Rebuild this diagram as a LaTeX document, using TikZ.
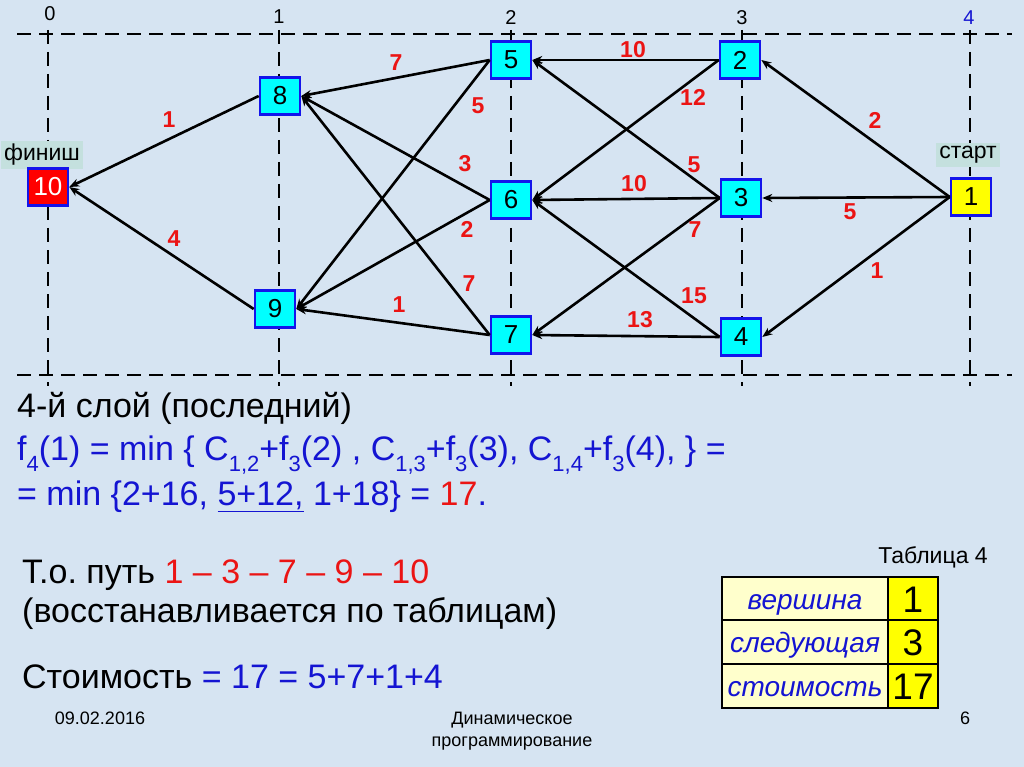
\documentclass[tikz,border=0pt]{standalone}
\usepackage{fontspec}
\setmainfont{Liberation Sans}
\usetikzlibrary{arrows.meta}
\frenchspacing
\definecolor{bg}{RGB}{214,228,242}
\definecolor{tblue}{RGB}{20,20,210}
\definecolor{lred}{RGB}{235,20,20}
\definecolor{ncyan}{RGB}{0,255,255}
\definecolor{nborder}{RGB}{20,20,235}
\definecolor{tagbg}{RGB}{196,224,222}
\definecolor{lyel}{RGB}{255,255,204}
\definecolor{yel}{RGB}{255,255,0}
\newcommand\mysub[1]{\raisebox{-0.3em}{\fontsize{22}{22}\selectfont #1}}
\newcommand\fs[1]{\fontsize{#1}{#1}\selectfont}
\begin{document}
\begin{tikzpicture}[x=1pt,y=-1pt,
  gnode/.style={draw=nborder, line width=2.6pt, fill=ncyan, minimum width=40pt, minimum height=37pt, inner sep=0pt, font=\fs{26}},
  edge/.style={line width=2.6pt, -{Stealth[length=10pt,width=8pt]}},
  wlab/.style={text=lred, font=\bfseries\fs{23}},
  gridline/.style={line width=2.4pt, dash pattern=on 14pt off 8pt},
  collab/.style={font=\fs{20}},
  tag/.style={fill=tagbg, font=\fs{23}, inner sep=3pt},
  txt/.style={anchor=west, font=\fs{34}, inner sep=0pt},
  foot/.style={font=\fs{18}},
  lcell/.style={draw=black, line width=2.8pt, fill=lyel, minimum width=166pt, minimum height=44pt, inner sep=0pt, text height=20pt, text depth=0pt, text=tblue, font=\itshape\fs{28}},
  rcell/.style={draw=black, line width=2.8pt, fill=yel, minimum width=50pt, minimum height=44pt, inner sep=0pt, text height=27pt, text depth=0pt, font=\fs{37}}
]
\useasboundingbox (0,0) rectangle (1024,767);
\fill[bg] (0,0) rectangle (1024,767);

% grid
\draw[gridline] (17,34) -- (1012,34);
\draw[gridline] (17,375) -- (1012,375);
\foreach \xx in {48,279,511,742,970} \draw[gridline] (\xx,30) -- (\xx,386);

% column labels
\node[collab] (c0) at (50,14) {0};
\node[collab] (c1) at (279,17) {1};
\node[collab] (c2) at (511,18) {2};
\node[collab] (c3) at (742,18) {3};
\node[collab, text=tblue] (c4) at (969,18) {4};

% tags
\node[tag] (fin) at (42,155) {финиш};
\node[tag] (sta) at (968,155) {старт};

% nodes
\node[gnode, fill=red, text=white] (n10) at (48,187) {10};
\node[gnode] (n8) at (280,96) {8};
\node[gnode] (n9) at (275,309) {9};
\node[gnode] (n5) at (511,60) {5};
\node[gnode] (n6) at (511,200) {6};
\node[gnode] (n7) at (511,335) {7};
\node[gnode] (n2) at (740,60) {2};
\node[gnode] (n3) at (741,198) {3};
\node[gnode] (n4) at (741,337) {4};
\node[gnode, fill=yel] (n1) at (971,197) {1};

% edges
\draw[edge] (n1.west) -- (n2.east);
\draw[edge] (n1.west) -- (n3.east);
\draw[edge] (n1.west) -- (n4.east);
\draw[edge] (n2.west) -- (n5.east);
\draw[edge] (n2.west) -- (n6.east);
\draw[edge] (n3.west) -- (n5.east);
\draw[edge] (n3.west) -- (n6.east);
\draw[edge] (n3.west) -- (n7.east);
\draw[edge] (n4.west) -- (n6.east);
\draw[edge] (n4.west) -- (n7.east);
\draw[edge] (n5.west) -- (n8.east);
\draw[edge] (n5.west) -- (n9.east);
\draw[edge] (n6.west) -- (n8.east);
\draw[edge] (n6.west) -- (n9.east);
\draw[edge] (n7.west) -- (n8.east);
\draw[edge] (n7.west) -- (n9.east);
\draw[edge] (n8.west) -- (n10.east);
\draw[edge] (n9.west) -- (n10.east);

% weights
\node[wlab] (w12) at (875,120) {2};
\node[wlab] (w13) at (850,212) {5};
\node[wlab] (w14) at (877,271) {1};
\node[wlab] (w25) at (633,50) {10};
\node[wlab] (w26) at (693,97) {12};
\node[wlab] (w35) at (694,165) {5};
\node[wlab] (w36) at (634,184) {10};
\node[wlab] (w37) at (695,230) {7};
\node[wlab] (w46) at (694,296) {15};
\node[wlab] (w47) at (640,320) {13};
\node[wlab] (w58) at (396,63) {7};
\node[wlab] (w59) at (478,106) {5};
\node[wlab] (w68) at (465,164) {3};
\node[wlab] (w69) at (467,229) {2};
\node[wlab] (w78) at (469,284) {7};
\node[wlab] (w79) at (399,305) {1};
\node[wlab] (w810) at (169,120) {1};
\node[wlab] (w910) at (174,239) {4};

% text block
\node[txt] (l1) at (17,408) {4-й слой (последний)};
\node[txt, text=tblue] (l2) at (17,455) {f\mysub{4}(1) = min \{ C\mysub{1,2}+f\mysub{3}(2) , C\mysub{1,3}+f\mysub{3}(3), C\mysub{1,4}+f\mysub{3}(4), \} =};
\node[txt, text=tblue] (l3) at (17,497) {= min \{2+16, \underline{5+12,} 1+18\} = \textcolor{lred}{17}.};
\node[txt] (l4) at (22,575) {Т.о. путь \textcolor{lred}{1 – 3 – 7 – 9 – 10}};
\node[txt] (l5) at (22,614) {(восстанавливается по таблицам)};
\node[txt] (l6) at (22,677) {Стоимость \textcolor{tblue}{= 17 = 5+7+1+4}};

% table
\node[font=\fs{23}] (tcap) at (933,557) {Таблица 4};
\node[lcell] (a1) at (805,599) {вершина};
\node[rcell] (b1) at (913,599) {1};
\node[lcell] (a2) at (805,642) {следующая};
\node[rcell] (b2) at (913,642) {3};
\node[lcell] (a3) at (805,686) {стоимость};
\node[rcell] (b3) at (913,686) {17};

% footer
\node[foot] (date) at (100,718) {09.02.2016};
\node[foot, align=center] (title) at (512,731) {Динамическое\\[4pt]программирование};
\node[foot] (pg) at (965,718) {6};
\end{tikzpicture}
\end{document}
